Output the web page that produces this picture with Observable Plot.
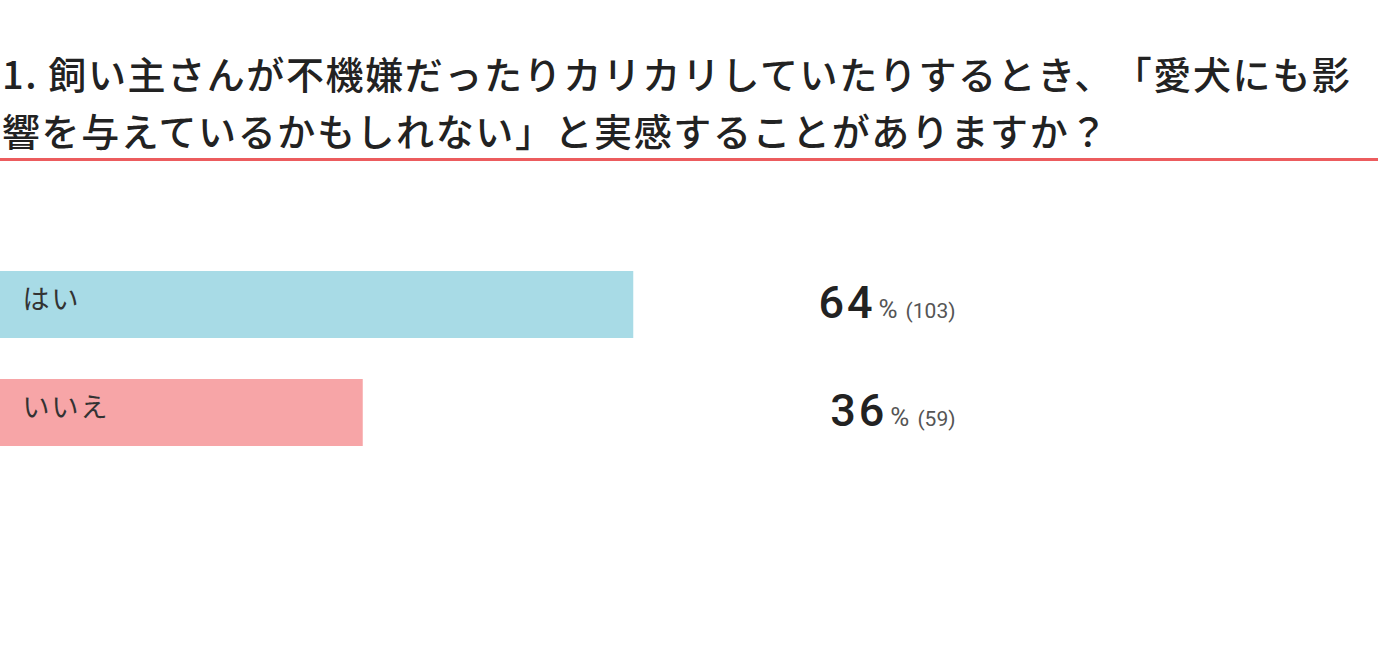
<!DOCTYPE html>
<html><head><meta charset="utf-8">
<script src="https://cdn.jsdelivr.net/npm/d3@7"></script>
<script src="https://cdn.jsdelivr.net/npm/@observablehq/plot@0.6"></script>
<style>
body{margin:0;background:#fff;font-family:"Noto Sans CJK JP","Noto Sans",sans-serif;}
#title{width:1378px;box-sizing:border-box;padding-top:44px;padding-left:2px;font-size:38px;line-height:57px;font-weight:500;color:#222;border-bottom:3px solid #ec5c5e;white-space:nowrap;letter-spacing:1.6px;text-spacing-trim:space-all;}
#chart svg{display:block;}
</style></head><body>
<div id="title">1. 飼い主さんが不機嫌だったりカリカリしていたりするとき、「愛犬にも影<br>響を与えているかもしれない」と実感することがありますか？</div>
<div id="chart"></div>
<script>
const categories = ["はい", "いいえ"];
const counts = [103, 59];
const barColors = ["#a8dbe6", "#f7a5a7"];

const total = d3.sum(counts);
const data = categories.map((c, i) => ({category: c, count: counts[i], pct: counts[i] / total * 100}));

const plot = Plot.plot({
  width: 1398,
  height: 493,
  margin: 0,
  x: {domain: [0, 100], range: [0, 996], axis: null},
  y: {domain: categories, range: [89.5, 305.5], paddingInner: 0.38, paddingOuter: 0.19, axis: null},
  color: {domain: categories, range: barColors},
  marks: [
    Plot.barX(data, {x: "pct", y: "category", fill: "category"}),
    Plot.text(data, {y: "category", frameAnchor: "left", text: "category", dx: 22, dy: -5, textAnchor: "start", fontSize: 27, fill: "#333", fontFamily: "Noto Sans CJK JP"}),
    Plot.text(data, {y: "category", frameAnchor: "right", dx: -443, text: d => `${Math.round(d.pct)}|%|(${d.count})`, textAnchor: "end", fontSize: 40, fill: "#222"})
  ]
});

plot.querySelectorAll("text").forEach(el => {
  const t = el.textContent;
  if (!t.includes("|")) {
    if (categories.includes(t)) el.setAttribute("letter-spacing", 2);
    return;
  }
  const [num, pc, cnt] = t.split("|");
  el.textContent = "";
  const sel = d3.select(el);
  sel.append("tspan").text(num).attr("font-size", 45).attr("font-weight", 500).attr("font-family", "Roboto").attr("letter-spacing", 3).attr("fill", "#222");
  sel.append("tspan").text(pc).attr("dx", 3).attr("font-size", 26).attr("font-family", "Roboto").attr("fill", "#555");
  sel.append("tspan").text(cnt).attr("dx", 8).attr("font-size", 21).attr("font-family", "Roboto").attr("fill", "#555");
});

document.getElementById("chart").appendChild(plot);
</script>
</body></html>
